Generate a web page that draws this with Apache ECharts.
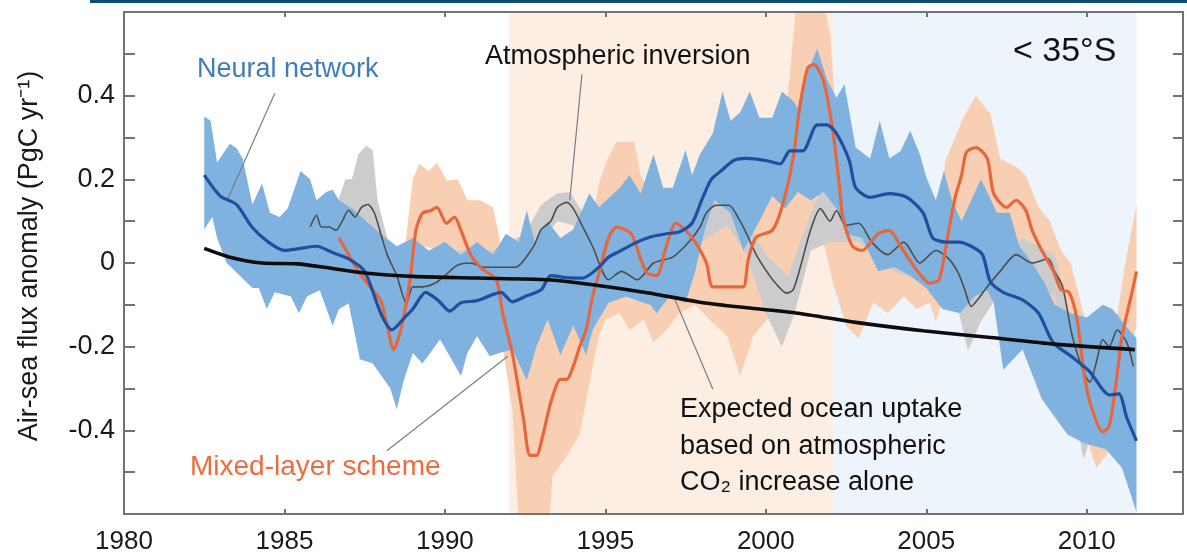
<!DOCTYPE html>
<html><head><meta charset="utf-8">
<script src="https://cdn.jsdelivr.net/npm/echarts@6/dist/echarts.min.js"></script>
<style>html,body{margin:0;padding:0;background:#fff}#c{width:1187px;height:557px}</style>
</head><body><div id="c"></div>
<script>
// ---------- data ----------
const xLabels = [1980, 1985, 1990, 1995, 2000, 2005, 2010];
const yLabels = [-0.4, -0.2, 0, 0.2, 0.4];
const shadeOrange = [1992.0, 2002.1];
const shadeBlue = [2002.1, 2011.55];

const nnLine = [[1982.5,0.21],[1983.0,0.16],[1983.5,0.14],[1984.0,0.085],[1984.5,0.05],[1985.0,0.03],[1985.5,0.035],[1986.0,0.04],[1986.5,0.025],[1987.0,0.01],[1987.5,-0.02],[1988.0,-0.12],[1988.35,-0.16],[1988.75,-0.13],[1989.0,-0.11],[1989.4,-0.07],[1989.8,-0.09],[1990.15,-0.115],[1990.5,-0.095],[1991.0,-0.09],[1991.5,-0.075],[1991.75,-0.07],[1992.1,-0.093],[1992.5,-0.08],[1993.0,-0.064],[1993.3,-0.03],[1993.8,-0.035],[1994.3,-0.036],[1994.8,-0.01],[1995.1,0.014],[1995.5,0.03],[1995.9,0.047],[1996.4,0.062],[1996.9,0.07],[1997.3,0.074],[1997.7,0.095],[1998.0,0.15],[1998.3,0.2],[1998.6,0.22],[1999.0,0.245],[1999.4,0.25],[2000.0,0.245],[2000.45,0.237],[2000.75,0.268],[2001.15,0.268],[2001.6,0.33],[2001.9,0.33],[2002.2,0.31],[2002.6,0.245],[2002.8,0.18],[2003.25,0.157],[2003.85,0.166],[2004.4,0.157],[2004.9,0.12],[2005.2,0.06],[2005.6,0.05],[2006.0,0.05],[2006.4,0.04],[2006.75,0.02],[2007.0,-0.045],[2007.4,-0.07],[2008.0,-0.088],[2008.5,-0.12],[2008.95,-0.19],[2009.55,-0.225],[2010.1,-0.26],[2010.7,-0.315],[2011.0,-0.313],[2011.25,-0.37],[2011.55,-0.425]];
const nnUpper = [[1982.5,0.35],[1982.7,0.34],[1982.9,0.24],[1983.3,0.285],[1983.5,0.275],[1983.7,0.25],[1984.0,0.14],[1984.3,0.19],[1984.55,0.12],[1984.85,0.11],[1985.1,0.13],[1985.5,0.22],[1985.8,0.2],[1986.0,0.15],[1986.3,0.17],[1986.5,0.175],[1986.7,0.15],[1987.1,0.13],[1987.55,0.1],[1988.0,0.07],[1988.5,0.04],[1989.0,0.06],[1989.5,0.03],[1990.0,0.05],[1990.5,0.02],[1991.0,0.05],[1991.5,0.02],[1991.9,0.07],[1992.3,0.05],[1992.55,0.126],[1992.8,0.05],[1993.2,0.1],[1993.6,0.06],[1994.0,0.08],[1994.5,0.166],[1994.8,0.133],[1995.45,0.18],[1995.75,0.21],[1996.1,0.166],[1996.5,0.26],[1996.8,0.18],[1997.1,0.18],[1997.5,0.27],[1997.7,0.21],[1997.95,0.26],[1998.35,0.31],[1998.65,0.41],[1998.9,0.34],[1999.2,0.36],[1999.5,0.41],[1999.8,0.347],[2000.2,0.347],[2000.5,0.41],[2000.85,0.387],[2001.0,0.37],[2001.35,0.465],[2001.6,0.513],[2001.9,0.44],[2002.2,0.395],[2002.45,0.427],[2002.8,0.276],[2003.25,0.25],[2003.55,0.34],[2003.85,0.25],[2004.2,0.268],[2004.5,0.316],[2004.8,0.26],[2005.0,0.205],[2005.3,0.15],[2005.55,0.22],[2005.8,0.15],[2006.1,0.1],[2006.4,0.15],[2006.7,0.2],[2006.9,0.17],[2007.2,0.12],[2007.6,0.12],[2007.9,0.04],[2008.3,0.0],[2008.7,-0.05],[2009.0,-0.1],[2009.5,-0.12],[2010.0,-0.13],[2010.5,-0.1],[2010.8,-0.11],[2011.1,-0.14],[2011.55,-0.18]];
const nnLower = [[1982.5,0.08],[1982.75,0.11],[1982.9,0.06],[1983.2,0.0],[1983.6,-0.03],[1984.0,-0.06],[1984.2,-0.06],[1984.45,-0.11],[1984.7,-0.07],[1985.2,-0.08],[1985.45,-0.12],[1985.7,-0.08],[1986.1,-0.065],[1986.5,-0.15],[1986.7,-0.11],[1987.0,-0.097],[1987.35,-0.23],[1987.75,-0.24],[1988.3,-0.3],[1988.5,-0.35],[1988.7,-0.285],[1989.0,-0.215],[1989.3,-0.24],[1989.85,-0.183],[1990.15,-0.223],[1990.5,-0.27],[1990.7,-0.215],[1991.0,-0.175],[1991.4,-0.223],[1991.7,-0.215],[1992.1,-0.207],[1992.55,-0.28],[1992.85,-0.2],[1993.2,-0.135],[1993.6,-0.22],[1994.0,-0.15],[1994.4,-0.22],[1994.6,-0.16],[1995.1,-0.095],[1995.65,-0.08],[1996.0,-0.09],[1996.4,-0.1],[1996.6,-0.12],[1997.0,-0.08],[1997.5,-0.095],[1997.8,-0.02],[1998.1,0.08],[1998.4,0.15],[1998.9,0.12],[1999.3,0.03],[1999.8,0.1],[2000.2,0.16],[2000.6,0.13],[2001.0,0.17],[2001.4,0.15],[2001.8,0.17],[2002.2,0.13],[2002.5,0.07],[2003.0,0.06],[2003.5,-0.02],[2004.0,-0.01],[2004.5,-0.03],[2005.0,-0.06],[2005.5,-0.11],[2006.05,-0.12],[2006.5,-0.08],[2006.9,-0.065],[2007.1,-0.095],[2007.4,-0.255],[2008.0,-0.207],[2008.6,-0.325],[2009.4,-0.41],[2009.9,-0.43],[2010.6,-0.445],[2011.1,-0.49],[2011.55,-0.595]];

const mlLine = [[1986.7,0.06],[1987.0,0.02],[1987.3,-0.02],[1987.7,-0.06],[1988.0,-0.09],[1988.2,-0.15],[1988.4,-0.207],[1988.6,-0.167],[1988.8,-0.095],[1988.95,-0.017],[1989.1,0.08],[1989.3,0.119],[1989.55,0.125],[1989.75,0.133],[1990.05,0.095],[1990.3,0.11],[1990.5,0.078],[1990.8,0.02],[1991.1,-0.01],[1991.6,-0.04],[1991.8,-0.12],[1992.1,-0.215],[1992.45,-0.373],[1992.65,-0.46],[1992.85,-0.46],[1993.05,-0.413],[1993.3,-0.333],[1993.6,-0.278],[1993.8,-0.278],[1994.0,-0.247],[1994.2,-0.2],[1994.4,-0.16],[1994.6,-0.08],[1994.8,-0.025],[1995.1,0.06],[1995.35,0.086],[1995.8,0.07],[1996.1,0.01],[1996.3,-0.024],[1996.6,-0.03],[1996.9,0.04],[1997.2,0.095],[1997.5,0.078],[1997.8,0.05],[1998.15,0.0],[1998.35,-0.057],[1999.0,-0.057],[1999.3,-0.057],[1999.45,0.007],[1999.7,0.062],[2000.2,0.078],[2000.5,0.133],[2000.85,0.25],[2001.05,0.37],[2001.3,0.465],[2001.5,0.475],[2001.8,0.435],[2002.1,0.31],[2002.3,0.18],[2002.4,0.11],[2002.7,0.04],[2003.0,0.03],[2003.5,0.07],[2003.85,0.078],[2004.2,0.04],[2004.7,-0.017],[2005.1,-0.048],[2005.4,-0.04],[2005.7,0.078],[2005.9,0.157],[2006.1,0.21],[2006.25,0.265],[2006.55,0.276],[2006.9,0.25],[2007.1,0.166],[2007.5,0.133],[2007.8,0.15],[2008.1,0.126],[2008.3,0.078],[2008.6,0.03],[2008.95,-0.017],[2009.2,-0.064],[2009.45,-0.07],[2009.7,-0.135],[2009.9,-0.254],[2010.1,-0.333],[2010.5,-0.404],[2010.7,-0.39],[2010.9,-0.295],[2011.1,-0.176],[2011.45,-0.057],[2011.55,-0.02]];
const mlUpper = [[1986.6,0.15],[1987.0,0.14],[1987.5,0.1],[1988.0,0.05],[1988.4,-0.08],[1988.7,0.0],[1989.0,0.2],[1989.2,0.237],[1989.5,0.22],[1989.75,0.24],[1990.05,0.197],[1990.4,0.2],[1990.7,0.15],[1991.1,0.15],[1991.5,0.133],[1991.7,0.06],[1991.9,-0.05],[1992.2,-0.15],[1992.6,-0.18],[1993.0,-0.12],[1993.5,-0.12],[1994.0,-0.08],[1994.5,0.05],[1994.8,0.19],[1995.05,0.245],[1995.35,0.29],[1995.9,0.29],[1996.1,0.21],[1996.5,0.15],[1997.0,0.15],[1997.5,0.17],[1998.0,0.13],[1998.5,0.14],[1999.2,0.15],[1999.8,0.15],[2000.45,0.25],[2000.75,0.45],[2000.95,0.62],[2001.8,0.62],[2002.0,0.55],[2002.15,0.39],[2002.5,0.2],[2003.0,0.12],[2003.5,0.15],[2004.0,0.1],[2004.5,0.05],[2005.0,0.03],[2005.3,0.1],[2005.6,0.245],[2006.15,0.347],[2006.55,0.4],[2007.0,0.356],[2007.3,0.25],[2007.8,0.23],[2008.1,0.21],[2008.5,0.133],[2008.85,0.1],[2009.2,0.03],[2009.5,0.0],[2010.0,-0.15],[2010.5,-0.25],[2010.8,-0.2],[2011.2,0.0],[2011.55,0.14]];
const mlLower = [[1986.6,-0.03],[1987.0,-0.08],[1987.5,-0.12],[1988.0,-0.2],[1988.4,-0.28],[1988.7,-0.2],[1989.0,0.0],[1989.3,0.04],[1990.0,0.03],[1990.5,0.0],[1991.0,-0.03],[1991.5,-0.08],[1991.8,-0.2],[1992.1,-0.35],[1992.3,-0.62],[1993.25,-0.62],[1993.35,-0.51],[1993.8,-0.46],[1994.2,-0.41],[1994.4,-0.33],[1994.6,-0.25],[1994.8,-0.175],[1995.0,-0.135],[1995.45,-0.12],[1995.75,-0.16],[1996.2,-0.135],[1996.5,-0.19],[1996.9,-0.16],[1997.3,-0.12],[1997.8,-0.1],[1998.3,-0.14],[1998.8,-0.175],[1999.2,-0.27],[1999.6,-0.175],[2000.2,-0.12],[2000.5,-0.1],[2001.0,0.0],[2001.5,0.1],[2001.8,0.05],[2002.1,-0.05],[2002.5,-0.15],[2002.9,-0.18],[2003.35,-0.095],[2003.8,-0.12],[2004.3,-0.08],[2004.7,-0.11],[2005.1,-0.095],[2005.3,-0.14],[2005.6,-0.064],[2006.0,0.05],[2006.5,0.12],[2007.0,0.08],[2007.5,0.05],[2008.0,0.0],[2008.5,-0.1],[2009.0,-0.15],[2009.5,-0.25],[2010.0,-0.42],[2010.3,-0.49],[2010.7,-0.45],[2011.0,-0.3],[2011.55,-0.15]];

const aiLine = [[1985.8,0.086],[1986.0,0.114],[1986.15,0.086],[1986.4,0.086],[1986.6,0.078],[1986.8,0.1],[1987.0,0.126],[1987.2,0.11],[1987.4,0.133],[1987.6,0.14],[1987.8,0.12],[1988.0,0.07],[1988.2,0.02],[1988.5,-0.03],[1988.8,-0.096],[1989.0,-0.057],[1989.3,-0.057],[1989.7,-0.048],[1990.0,-0.03],[1990.4,-0.005],[1990.8,0.0],[1991.2,-0.01],[1991.7,-0.01],[1992.2,-0.01],[1992.75,0.038],[1993.0,0.08],[1993.3,0.1],[1993.5,0.133],[1993.8,0.145],[1994.0,0.13],[1994.3,0.086],[1994.6,0.04],[1995.1,-0.04],[1995.5,-0.02],[1996.0,-0.04],[1996.5,0.0],[1997.1,0.014],[1997.6,0.05],[1997.95,0.086],[1998.15,0.12],[1998.45,0.138],[1998.85,0.138],[1999.2,0.1],[1999.4,0.07],[1999.7,0.02],[2000.0,-0.017],[2000.3,-0.048],[2000.65,-0.072],[2000.85,-0.064],[2001.05,-0.017],[2001.4,0.08],[2001.7,0.13],[2002.0,0.1],[2002.2,0.125],[2002.5,0.09],[2002.9,0.095],[2003.3,0.05],[2003.8,0.02],[2004.3,0.05],[2004.8,0.0],[2005.3,0.03],[2005.7,0.01],[2006.0,-0.024],[2006.2,-0.064],[2006.4,-0.104],[2006.6,-0.088],[2006.9,-0.057],[2007.3,-0.02],[2007.8,0.02],[2008.3,0.0],[2008.8,0.01],[2009.0,-0.02],[2009.25,-0.057],[2009.55,-0.175],[2009.9,-0.26],[2010.1,-0.285],[2010.3,-0.237],[2010.5,-0.183],[2010.7,-0.2],[2010.95,-0.16],[2011.25,-0.19],[2011.45,-0.247]];
const aiUpper = [[1985.8,0.12],[1986.5,0.11],[1986.9,0.2],[1987.1,0.2],[1987.3,0.26],[1987.55,0.28],[1987.75,0.27],[1987.9,0.15],[1988.2,0.06],[1988.8,-0.05],[1989.5,-0.01],[1990.5,0.03],[1991.5,0.03],[1992.5,0.07],[1993.0,0.14],[1993.5,0.166],[1993.9,0.17],[1994.3,0.12],[1995.0,0.0],[1996.0,0.0],[1997.0,0.05],[1998.0,0.12],[1998.6,0.17],[1999.2,0.13],[2000.0,0.02],[2000.7,-0.03],[2001.4,0.12],[2001.7,0.17],[2002.2,0.16],[2002.9,0.13],[2004.0,0.08],[2005.0,0.04],[2006.0,0.01],[2006.4,-0.06],[2007.0,-0.02],[2008.0,0.06],[2009.0,0.02],[2009.5,-0.13],[2010.0,-0.22],[2010.5,-0.13],[2011.0,-0.12],[2011.45,-0.2]];
const aiLower = [[1985.8,0.05],[1986.5,0.04],[1987.0,0.08],[1987.6,0.1],[1988.0,0.03],[1988.8,-0.14],[1989.5,-0.09],[1990.5,-0.04],[1991.5,-0.05],[1992.5,0.0],[1993.5,0.1],[1994.0,0.09],[1994.6,0.0],[1995.1,-0.08],[1996.0,-0.08],[1997.0,-0.03],[1998.0,0.05],[1998.8,0.09],[1999.4,0.02],[2000.0,-0.12],[2000.5,-0.2],[2000.9,-0.12],[2001.4,0.03],[2002.0,0.05],[2002.9,0.05],[2004.0,-0.02],[2005.0,-0.05],[2005.8,-0.05],[2006.3,-0.21],[2006.7,-0.14],[2007.3,-0.07],[2008.0,-0.03],[2009.0,-0.08],[2009.5,-0.3],[2009.9,-0.47],[2010.2,-0.4],[2010.5,-0.28],[2011.0,-0.22],[2011.45,-0.3]];

const expectedLine = [[1982.5,0.035],[1983.3,0.014],[1984.3,0.0],[1985.4,-0.002],[1986.4,-0.012],[1987.5,-0.024],[1989.0,-0.032],[1991.0,-0.036],[1993.2,-0.04],[1994.6,-0.052],[1996.3,-0.071],[1997.9,-0.093],[1999.4,-0.107],[2001.0,-0.12],[2002.8,-0.142],[2004.9,-0.162],[2007.0,-0.178],[2009.0,-0.194],[2011.5,-0.207]];

// leader lines for annotations [from, to] in data space
const leaderNN = [[1984.70,0.406],[1983.24,0.154]];
const leaderAI = [[1994.27,0.451],[1993.89,0.150]];
const leaderML = [[1988.19,-0.449],[1991.96,-0.223]];
const leaderEX = [[1997.17,-0.088],[1998.35,-0.302]];

// ---------- chart ----------
const FONT = '"Liberation Sans", Arial, Helvetica, sans-serif';
const AX = '#737373';

function band(name, upper, lower, color, z) {
  return {
    type: 'custom', name: name, z: z, silent: true, clip: true,
    data: [[upper[0][0], upper[0][1]]],
    renderItem: function (params, api) {
      const pts = upper.map(p => api.coord(p)).concat(lower.slice().reverse().map(p => api.coord(p)));
      return { type: 'polygon', shape: { points: pts }, style: { fill: color } };
    }
  };
}
function line(name, data, color, width, z, extra) {
  return Object.assign({
    type: 'line', name: name, data: data, z: z, showSymbol: false, symbol: 'none',
    smooth: 0.25, silent: true, lineStyle: { color: color, width: width }
  }, extra || {});
}
function leader(l) { return [{ coord: l[0] }, { coord: l[1] }]; }

const axisCommon = {
  type: 'value', z: 10,
  axisLine: { show: true, onZero: false, lineStyle: { color: AX, width: 2 } },
  splitLine: { show: false }
};

const option = {
  animation: false,
  grid: { left: 124, right: 4, top: 12, bottom: 43 },
  xAxis: [
    Object.assign({}, axisCommon, {
      min: 1980, max: 2013, interval: 5, position: 'bottom',
      axisTick: { show: true, inside: true, length: 5, lineStyle: { color: AX, width: 2 } },
      axisLabel: { margin: 15, fontSize: 26, color: '#1a1a1a', fontFamily: FONT, showMaxLabel: false,
        formatter: v => xLabels.indexOf(v) >= 0 ? String(v) : '' }
    }),
    Object.assign({}, axisCommon, {
      min: 1980, max: 2013, interval: 5, position: 'top',
      axisTick: { show: true, inside: true, length: 5, lineStyle: { color: AX, width: 2 } },
      axisLabel: { show: false }
    })
  ],
  yAxis: [
    Object.assign({}, axisCommon, {
      min: -0.6, max: 0.6, interval: 0.1, position: 'left',
      axisTick: { show: true, inside: true, length: 11, lineStyle: { color: AX, width: 2 } },
      axisLabel: { margin: 9, fontSize: 27, color: '#1a1a1a', fontFamily: FONT,
        formatter: v => {
          const r = Math.round(v * 10) / 10;
          const hit = yLabels.some(t => Math.abs(t - r) < 1e-6);
          if (!hit) return '';
          return r === 0 ? '0' : r.toFixed(1);
        } }
    }),
    Object.assign({}, axisCommon, {
      min: -0.6, max: 0.6, interval: 0.1, position: 'right',
      axisTick: { show: true, inside: true, length: 10, lineStyle: { color: AX, width: 2 } },
      axisLabel: { show: false }
    })
  ],
  series: [
    { type: 'line', name: 'shade', data: [], z: 1, silent: true,
      markArea: { silent: true, data: [
        [{ xAxis: shadeOrange[0], itemStyle: { color: '#fdeee3' } }, { xAxis: shadeOrange[1] }],
        [{ xAxis: shadeBlue[0], itemStyle: { color: '#eef4fb' } }, { xAxis: shadeBlue[1] }]
      ] } },
    band('mlBand', mlUpper, mlLower, '#f8cfb3', 2),
    band('aiBand', aiUpper, aiLower, '#cccccc', 3),
    band('nnBand', nnUpper, nnLower, '#80b2df', 4),
    line('Atmospheric inversion', aiLine, '#4d4d4d', 1.6, 5),
    line('Mixed-layer scheme', mlLine, '#e8663b', 3.2, 6),
    line('Neural network', nnLine, '#1f4f9e', 3.2, 7),
    line('Expected', expectedLine, '#0d0d0d', 3.6, 8, {
      markLine: { silent: true, symbol: 'none', label: { show: false },
        lineStyle: { color: '#7d7d7d', width: 1.2, type: 'solid' },
        data: [leader(leaderNN), leader(leaderAI), leader(leaderML), leader(leaderEX)] }
    })
  ],
  graphic: [
    { type: 'rect', z: 20, shape: { x: 90, y: 0, width: 1097, height: 3 }, style: { fill: '#0d4d6e' } },
    { type: 'text', z: 20, x: 30, y: 256, rotation: Math.PI / 2,
      style: { text: 'Air-sea flux anomaly (PgC yr⁻¹)', fontSize: 27, fontFamily: FONT, fill: '#1a1a1a', align: 'center', verticalAlign: 'middle' } },
    { type: 'text', z: 20, x: 197, y: 70,
      style: { text: 'Neural network', fontSize: 27, fontFamily: FONT, fill: '#3f7cb9', align: 'left', verticalAlign: 'middle' } },
    { type: 'text', z: 20, x: 485, y: 57,
      style: { text: 'Atmospheric inversion', fontSize: 27, fontFamily: FONT, fill: '#111111', align: 'left', verticalAlign: 'middle' } },
    { type: 'text', z: 20, x: 1013, y: 52,
      style: { text: '< 35°S', fontSize: 34, fontFamily: FONT, fill: '#111111', align: 'left', verticalAlign: 'middle' } },
    { type: 'text', z: 20, x: 190, y: 467,
      style: { text: 'Mixed-layer scheme', fontSize: 28, fontFamily: FONT, fill: '#ee6b3d', align: 'left', verticalAlign: 'middle' } },
    { type: 'text', z: 20, x: 680, y: 410,
      style: { text: 'Expected ocean uptake', fontSize: 27, fontFamily: FONT, fill: '#111111', align: 'left', verticalAlign: 'middle' } },
    { type: 'text', z: 20, x: 680, y: 447,
      style: { text: 'based on atmospheric', fontSize: 27, fontFamily: FONT, fill: '#111111', align: 'left', verticalAlign: 'middle' } },
    { type: 'text', z: 20, x: 680, y: 483,
      style: { text: 'CO₂ increase alone', fontSize: 27, fontFamily: FONT, fill: '#111111', align: 'left', verticalAlign: 'middle' } }
  ]
};

const chart = echarts.init(document.getElementById('c'), null, { renderer: 'canvas' });
chart.setOption(option);
</script>
</body></html>
